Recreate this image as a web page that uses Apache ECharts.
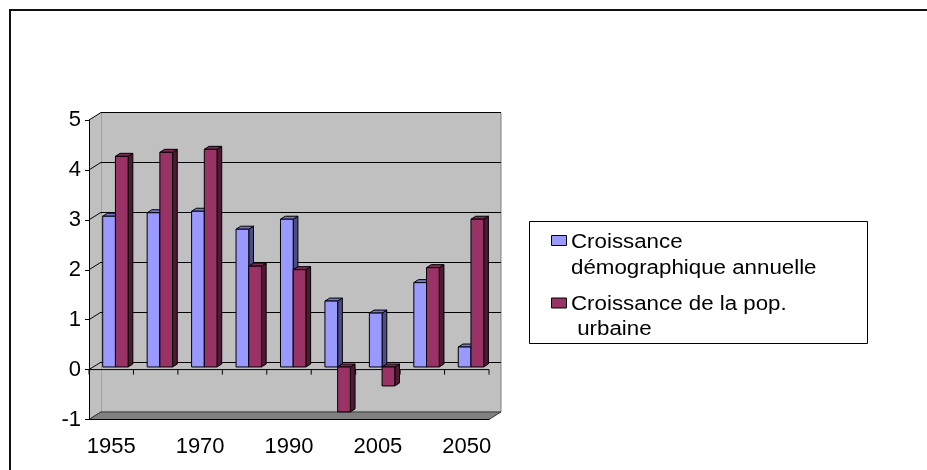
<!DOCTYPE html>
<html>
<head>
<meta charset="utf-8">
<script src="https://cdn.jsdelivr.net/npm/echarts@6/dist/echarts.min.js"></script>
<style>
html,body{margin:0;padding:0;background:#fff;}
#chart{width:927px;height:470px;}
</style>
</head>
<body>
<div id="chart"></div>
<script>
const categories = ['1955', '1965', '1970', '1980', '1990', '2000', '2005', '2025', '2050'];
const demoGrowth = [3.02, 3.09, 3.12, 2.76, 2.96, 1.32, 1.08, 1.69, 0.40];
const urbanGrowth = [4.22, 4.30, 4.36, 2.02, 1.95, -0.90, -0.38, 1.99, 2.96];
const yMin = -1, yMax = 5, yInterval = 1;
const seriesNames = ['Croissance démographique annuelle', 'Croissance de la pop. urbaine'];
const legendLines = [['Croissance', 'démographique annuelle'], ['Croissance de la pop.', ' urbaine']];

const FONT = "'Liberation Sans', Arial, sans-serif";
const DX = 12, DY = -7.5;          // wall depth
const FX = 4.2, FY = -2.6;         // bar front-face depth shift
const BDX = 4.7, BDY = -3;         // bar depth
const BAR_FRAC = 0.286;

const palettes = [
  {front: '#9999ff', side: '#4d4d85', top: '#7676cc'},
  {front: '#993366', side: '#4d1a33', top: '#7f2a55'}
];

function barRender(si) {
  const pal = palettes[si];
  return function (params, api) {
    const i = api.value(0), v = api.value(1);
    const c = api.coord([i, 0]);
    const t = api.coord([i, v]);
    const bw = api.size([1, 0])[0] * BAR_FRAC;
    const x0 = c[0] + (si === 0 ? -bw : 0) + FX;
    const x1 = x0 + bw;
    const yb = c[1] + FY, yt = t[1] + FY;
    const top = Math.min(yb, yt), bot = Math.max(yb, yt);
    return {
      type: 'group',
      children: [
        {type: 'polygon', shape: {points: [[x1, top], [x1 + BDX, top + BDY], [x1 + BDX, bot + BDY], [x1, bot]]},
          style: {fill: pal.side, stroke: '#000', lineWidth: 1}},
        {type: 'polygon', shape: {points: [[x0, top], [x0 + BDX, top + BDY], [x1 + BDX, top + BDY], [x1, top]]},
          style: {fill: pal.top, stroke: '#000', lineWidth: 1}},
        {type: 'rect', shape: {x: x0, y: top, width: bw, height: bot - top},
          style: {fill: pal.front, stroke: '#000', lineWidth: 1}}
      ]
    };
  };
}

function wallRender(params, api) {
  const bw = api.size([1, 0])[0];
  const xl = api.coord([0, 0])[0] - bw / 2;
  const xr = api.coord([categories.length - 1, 0])[0] + bw / 2;
  const yv = v => api.coord([0, v])[1];
  const yT = yv(yMax), yB = yv(yMin), y0 = yv(0);
  const ch = [];
  ch.push({type: 'polygon', shape: {points: [[xl, yT], [xl + DX, yT + DY], [xl + DX, yB + DY], [xl, yB]]},
    style: {fill: '#c0c0c0', stroke: null}});
  for (let v = yMin; v <= yMax; v += yInterval) {
    ch.push({type: 'line', shape: {x1: xl, y1: yv(v), x2: xl + DX, y2: yv(v) + DY},
      style: {stroke: '#000', lineWidth: 1}});
  }
  ch.push({type: 'polygon', shape: {points: [[xl, yB], [xr, yB], [xr + DX, yB + DY], [xl + DX, yB + DY]]},
    style: {fill: '#808080', stroke: '#404040', lineWidth: 1}});
  ch.push({type: 'line', shape: {x1: xl, y1: y0, x2: xr, y2: y0}, style: {stroke: '#000', lineWidth: 1}});
  for (let k = 0; k <= categories.length; k++) {
    const x = xl + k * bw;
    ch.push({type: 'line', shape: {x1: x, y1: y0, x2: x, y2: y0 + 5}, style: {stroke: '#000', lineWidth: 1}});
  }
  return {type: 'group', children: ch};
}

const legendGraphics = [];
legendGraphics.push({type: 'rect', shape: {x: 529.5, y: 221.5, width: 338, height: 122},
  style: {fill: '#fff', stroke: '#000', lineWidth: 1}, z: 10});
const legendSq = [235, 297.5];
const legendMid = [[242.8, 268.1], [304.8, 329.8]];
for (let s = 0; s < 2; s++) {
  legendGraphics.push({type: 'rect', shape: {x: 551.5, y: legendSq[s] + 0.5, width: 15, height: 10},
    style: {fill: palettes[s].front, stroke: '#000', lineWidth: 1}, z: 11});
  for (let l = 0; l < 2; l++) {
    legendGraphics.push({type: 'text', x: 571, y: legendMid[s][l], scaleX: 1.115, z: 11,
      style: {text: legendLines[s][l], font: '20px ' + FONT, fill: '#000', verticalAlign: 'middle', align: 'left'}});
  }
}

const chart = echarts.init(document.getElementById('chart'), null, {renderer: 'canvas'});
chart.setOption({
  animation: false,
  backgroundColor: '#fff',
  textStyle: {fontFamily: FONT},
  grid: [
    {left: 89, top: 120, width: 400, height: 299.5},
    {left: 89 + DX, top: 120 + DY, width: 400, height: 299.5, show: true,
      backgroundColor: '#c0c0c0', borderColor: '#808080', borderWidth: 1}
  ],
  xAxis: [
    {gridIndex: 0, type: 'category', data: categories, boundaryGap: true, z: 5,
      axisLine: {onZero: false, lineStyle: {color: '#000', width: 1}},
      axisTick: {interval: 0, length: 5, lineStyle: {color: '#000'}},
      axisLabel: {interval: 1, margin: 16, fontSize: 22, color: '#000', fontFamily: FONT}},
    {gridIndex: 1, type: 'category', data: categories, show: false}
  ],
  yAxis: [
    {gridIndex: 0, type: 'value', min: yMin, max: yMax, interval: yInterval, z: 5,
      axisLine: {show: true, lineStyle: {color: '#000', width: 1}},
      axisTick: {show: true, length: 4, lineStyle: {color: '#000'}},
      splitLine: {show: false},
      axisLabel: {fontSize: 22, margin: 8, color: '#000', fontFamily: FONT}},
    {gridIndex: 1, type: 'value', min: yMin, max: yMax, interval: yInterval,
      axisLine: {show: false}, axisTick: {show: false}, axisLabel: {show: false},
      splitLine: {show: true, lineStyle: {color: '#000', width: 1}}}
  ],
  series: [
    {type: 'custom', name: 'walls', xAxisIndex: 0, yAxisIndex: 0, z: 1, silent: true,
      data: [[0, 0]], renderItem: wallRender},
    {type: 'custom', name: seriesNames[0], xAxisIndex: 0, yAxisIndex: 0, z: 2,
      data: demoGrowth.map((v, i) => [i, v]), renderItem: barRender(0)},
    {type: 'custom', name: seriesNames[1], xAxisIndex: 0, yAxisIndex: 0, z: 3,
      data: urbanGrowth.map((v, i) => [i, v]), renderItem: barRender(1)}
  ],
  graphic: [
    {type: 'line', shape: {x1: 9, y1: 10, x2: 927, y2: 10}, style: {stroke: '#111', lineWidth: 2}},
    {type: 'line', shape: {x1: 10, y1: 9, x2: 10, y2: 470}, style: {stroke: '#111', lineWidth: 2}}
  ].concat(legendGraphics)
});
</script>
</body>
</html>
